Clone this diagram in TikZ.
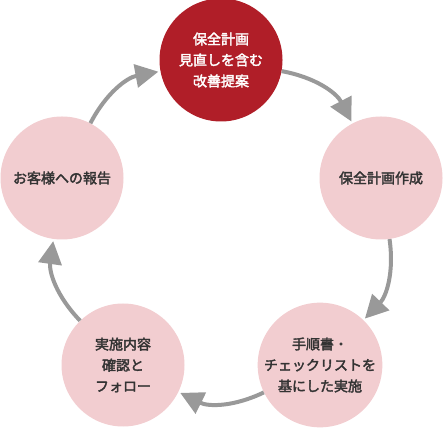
\documentclass[tikz,border=0pt]{standalone}
\usepackage{fontspec}
\setmainfont{Noto Sans CJK JP}[AutoFakeBold=2.5]
\usetikzlibrary {arrows.meta}
\definecolor{cyclered}{HTML}{B01E28}
\definecolor{cyclepink}{HTML}{F2CDD0}
\definecolor{cyclegray}{HTML}{999999}
\definecolor{cycletext}{HTML}{333333}

\begin{document}
\begin{tikzpicture}[x=1pt,y=1pt,
      every node/.style={font=\bfseries\fontsize{14}{21}\selectfont,align=center},
      stage/.style={circle,fill=cyclepink,text=cycletext,minimum size=123pt,inner sep=0pt},
      lead/.style={stage,fill=cyclered,text=white},
      cyclearrow/.style={-{Triangle[length=23pt,width=23pt]},shorten >=2pt,draw=cyclegray,line width=4pt}
      ]
      \useasboundingbox (0,0) rectangle (443,427);
      \node[lead]  (plan)   at (221,367) {保全計画\\見直しを含む\\改善提案};
      \node[stage] (make)   at (381,249) {保全計画作成};
      \node[stage] (exec)   at (320,62)  {手順書・\\チェックリストを\\基にした実施};
      \node[stage] (check)  at (123,62)  {実施内容\\確認と\\フォロー};
      \node[stage] (report) at (62,249)  {お客様への報告};
      \path
      (plan) edge [cyclearrow, bend left=26] (make)
      (make) edge [cyclearrow, bend left=26] (exec)
      (exec) edge [cyclearrow, bend left=26] (check)
      (check) edge [cyclearrow, bend left=26] (report)
      (report) edge [cyclearrow, bend left=26] (plan);
    \end{tikzpicture}
\end{document}
